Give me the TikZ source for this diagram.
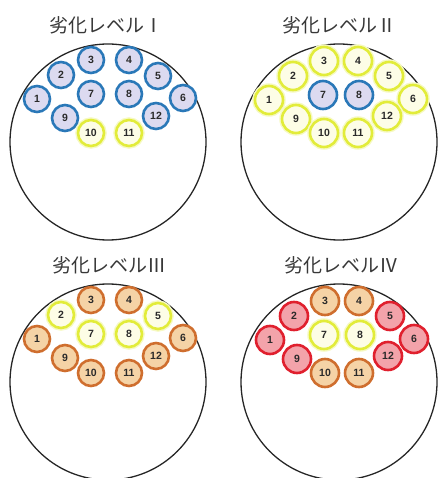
\documentclass[tikz,border=0pt]{standalone}
\usepackage{fontspec}
\setsansfont{Liberation Sans}
\newfontfamily\jp{Noto Sans CJK JP}
\definecolor{bluS}{HTML}{2A78B8}
\definecolor{bluF}{HTML}{DCDAF0}
\definecolor{yelS}{HTML}{E2EC3A}
\definecolor{yelF}{HTML}{FDFDE6}
\definecolor{yelG}{HTML}{F6F9C4}
\definecolor{oraS}{HTML}{CF6E2E}
\definecolor{oraF}{HTML}{F5D3A6}
\definecolor{redS}{HTML}{E0202E}
\definecolor{redF}{HTML}{F3A3AA}
\definecolor{txt}{HTML}{2A2A2A}
\tikzset{
  ball/.style={circle, inner sep=0pt, line width=2.6pt, text=txt,
    font=\sffamily\bfseries\fontsize{10.5}{11}\selectfont},
  smallA/.style={minimum size=26pt},
  smallB/.style={minimum size=28pt},
  blu/.style={ball, draw=bluS, fill=bluF},
  yel/.style={ball, draw=yelS, fill=yelF, preaction={draw=yelG, line width=5.5pt}},
  ora/.style={ball, draw=oraS, fill=oraF},
  rdd/.style={ball, draw=redS, fill=redF},
  bigc/.style={circle, draw=black!85, line width=1.3pt, minimum size=196pt, inner sep=0pt},
  ttl/.style={text=black!78, font=\jp\fontsize{19}{20}\selectfont, inner sep=0pt}
}
\begin{document}
\begin{tikzpicture}[x=1pt, y=-1pt]
\useasboundingbox (0,0) rectangle (438,478);
% big circles
\node[bigc] (c1) at (108,142) {};
\node[bigc] (c2) at (339,142) {};
\node[bigc] (c3) at (108,382) {};
\node[bigc] (c4) at (339,382) {};
% titles
\node[ttl] (t1) at (106,25) {劣化レベルⅠ};
\node[ttl] (t2) at (339,25) {劣化レベルⅡ};
\node[ttl] (t3) at (109,265) {劣化レベルⅢ};
\node[ttl] (t4) at (341,265) {劣化レベルⅣ};
% panel 1
\foreach \n/\x/\y/\s in {1/-73/99/blu, 2/-49/75/blu, 3/-19/60/blu, 4/19/60/blu,
  5/48/76/blu, 6/73/98/blu, 7/-19/94/blu, 8/19/94/blu, 9/-45/118/blu,
  10/-19/133/yel, 11/19/133/yel, 12/46/116/blu}
  {\node[\s, smallA] (a\n) at ({110+(\x)},{\y}) {\n};}
% panel 2
\foreach \n/\x/\y/\s in {1/-72/100/yel, 2/-48/76/yel, 3/-17/61/yel, 4/17/61/yel,
  5/48/76/yel, 6/72/99/yel, 7/-18/95/blu, 8/18/95/blu, 9/-45/119/yel,
  10/-17/133/yel, 11/17/133/yel, 12/46/116/yel}
  {\node[\s, smallB] (b\n) at ({341+(\x)},{\y}) {\n};}
% panel 3
\foreach \n/\x/\y/\s in {1/-73/99/ora, 2/-49/75/yel, 3/-19/60/ora, 4/19/60/ora,
  5/48/76/yel, 6/73/98/ora, 7/-19/94/yel, 8/19/94/yel, 9/-45/118/ora,
  10/-19/133/ora, 11/19/133/ora, 12/46/116/ora}
  {\node[\s, smallA] (c\n) at ({110+(\x)},{240+\y}) {\n};}
% panel 4
\foreach \n/\x/\y/\s in {1/-72/100/rdd, 2/-48/76/rdd, 3/-17/61/ora, 4/17/61/ora,
  5/48/76/rdd, 6/72/99/rdd, 7/-18/95/yel, 8/18/95/yel, 9/-45/119/rdd,
  10/-17/133/ora, 11/17/133/ora, 12/46/116/rdd}
  {\node[\s, smallB] (d\n) at ({342+(\x)},{240+\y}) {\n};}
\end{tikzpicture}
\end{document}
